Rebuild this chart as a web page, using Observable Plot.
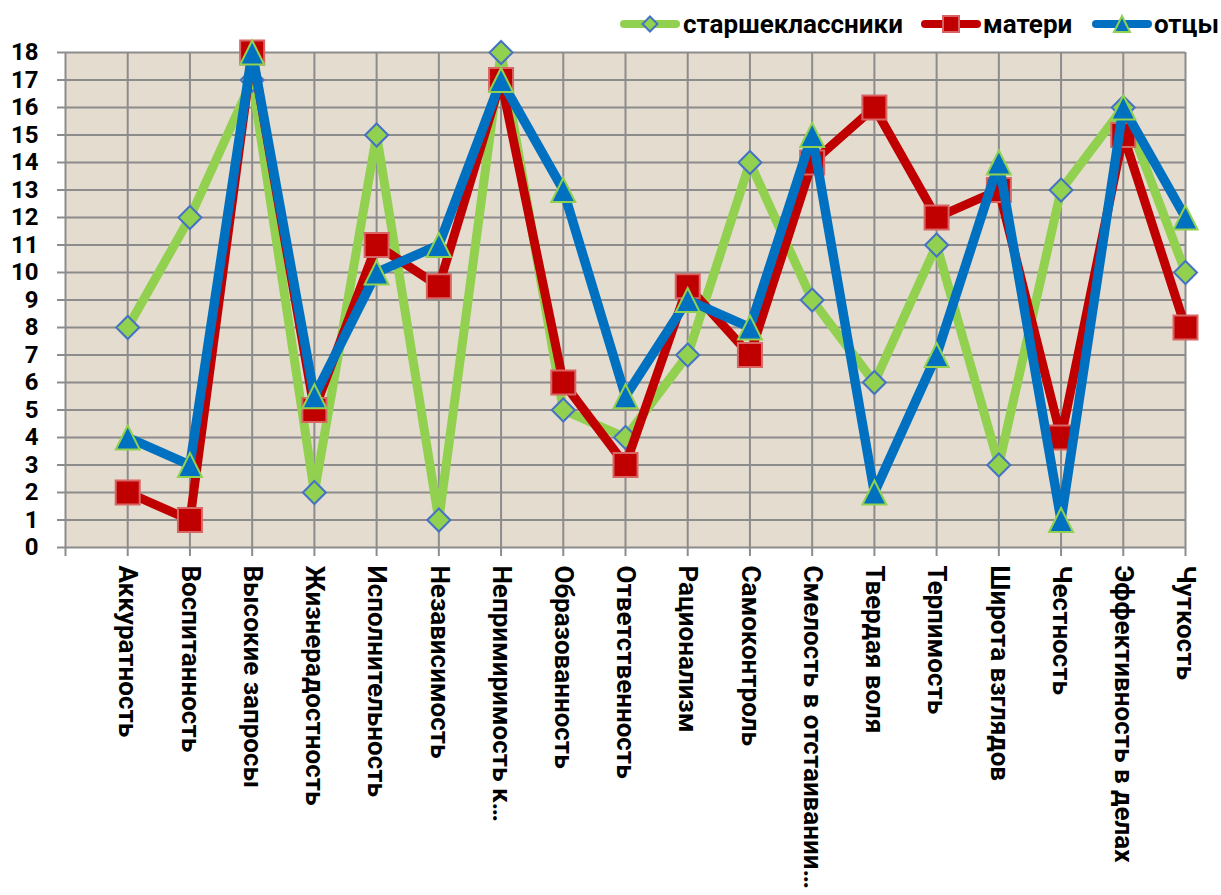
<!DOCTYPE html>
<html><head><meta charset="utf-8">
<script src="https://cdn.jsdelivr.net/npm/d3@7"></script>
<script src="https://cdn.jsdelivr.net/npm/@observablehq/plot@0.6"></script>
<style>
body{margin:0;background:#fff;font-family:Roboto,sans-serif;}
#wrap{position:relative;width:1221px;height:895px;}
#legend{position:absolute;top:0;left:0;width:1221px;height:48px;overflow:visible;}
</style></head><body>
<div id="wrap"><div id="chart"></div><svg id="legend"></svg></div>
<script>
const categories = ["Аккуратность","Воспитанность","Высокие запросы","Жизнерадостность","Исполнительность","Независимость","Непримиримость к…","Образованность","Ответственность","Рационализм","Самоконтроль","Смелость в отстаивании…","Твердая воля","Терпимость","Широта взглядов","Честность","Эффективность в делах","Чуткость"];
const students = [8,12,17,2,15,1,18,5,4,7,14,9,6,11,3,13,16,10];
const mothers  = [2,1,18,5,11,9.5,17,6,3,9.5,7,14,16,12,13,4,15,8];
const fathers  = [4,3,18,5.5,10,11,17,13,5.5,9,8,15,2,7,14,1,16,12];
const seriesNames = ["старшеклассники","матери","отцы"];
const seriesColors = ["#92d050","#c00000","#0070c0"];
const markerStrokes = ["#4472c4","#d86464","#92d050"];
const yTicks = d3.range(0, 19);
const xTicks = d3.range(0, categories.length + 1);

function sym(kind){
  return {draw(ctx, size){
    const h = Math.sqrt(size / Math.PI);
    if (kind === "diamond"){ ctx.moveTo(0,-h); ctx.lineTo(h,0); ctx.lineTo(0,h); ctx.lineTo(-h,0); ctx.closePath(); }
    else if (kind === "square"){ ctx.rect(-h,-h,2*h,2*h); }
    else { ctx.moveTo(0,-h); ctx.lineTo(h,h); ctx.lineTo(-h,h); ctx.closePath(); }
  }};
}
const symbols = [sym("diamond"), sym("square"), sym("triangle")];
const sizes = [11.5, 12, 12];
const widths = [9, 9, 9.5];

const allSeries = [students, mothers, fathers];
const marks = [
  Plot.frame({fill:"#e4dccf", stroke:null}),
  Plot.ruleY(yTicks, {y: d => d, stroke:"#8c8c8c", strokeWidth:2}),
  Plot.ruleX(xTicks, {x: d => d, stroke:"#8c8c8c", strokeWidth:2}),
  Plot.axisY({ticks: yTicks, tickSize: 8, tickPadding: 19, stroke:"#8c8c8c", strokeWidth:2, fontSize: 24, fontWeight:"bold", fill:"#000", label:null, tickFormat: d => String(d)}),
  Plot.axisX({ticks: xTicks, tickFormat: i => i === 0 ? "" : categories[i-1], tickRotate: 90, tickSize: 9, tickPadding: 9, stroke:"#8c8c8c", strokeWidth:2, fontSize: 26, fontWeight:"bold", fill:"#000", label:null})
];
allSeries.forEach((vals, s) => {
  const rows = vals.map((v, i) => ({idx: i + 1, value: v, cat: categories[i]}));
  marks.push(Plot.line(rows, {x:"idx", y:"value", stroke: seriesColors[s], strokeWidth: widths[s], strokeLinejoin:"round", strokeLinecap:"round"}));
  marks.push(Plot.dot(rows, {x:"idx", y:"value", symbol: symbols[s], r: sizes[s], fill: seriesColors[s], stroke: markerStrokes[s], strokeWidth: 2}));
});

const chart = Plot.plot({
  width: 1221, height: 895,
  marginLeft: 65, marginRight: 36, marginTop: 52, marginBottom: 348,
  x: {type:"linear", domain:[0, categories.length], axis:null},
  y: {type:"linear", domain:[0, 18], axis:null},
  style: {fontFamily:"Roboto, sans-serif", background:"transparent", color:"#000", overflow:"visible"},
  marks
});
document.getElementById("chart").appendChild(chart);

// legend
const leg = d3.select("#legend");
const legendItems = [{x:620, tx:683},{x:921, tx:983},{x:1092, tx:1154}];
seriesNames.forEach((name, s) => {
  const it = legendItems[s], cy = 24, cx = it.x + 30;
  leg.append("line").attr("x1", it.x + 4).attr("x2", it.x + 56).attr("y1", cy).attr("y2", cy)
    .attr("stroke", seriesColors[s]).attr("stroke-width", 8).attr("stroke-linecap","round");
  const p = d3.path(); symbols[s].draw(p, Math.PI * (s === 0 ? 7.5 : 8) ** 2);
  leg.append("path").attr("d", p.toString()).attr("transform", `translate(${cx},${cy})`)
    .attr("fill", seriesColors[s]).attr("stroke", markerStrokes[s]).attr("stroke-width", 2);
  leg.append("text").attr("x", it.tx).attr("y", cy).attr("dy","0.35em").text(name)
    .attr("font-family","Roboto, sans-serif").attr("font-weight","bold").attr("font-size",26).attr("fill","#000");
});
</script>
</body></html>
